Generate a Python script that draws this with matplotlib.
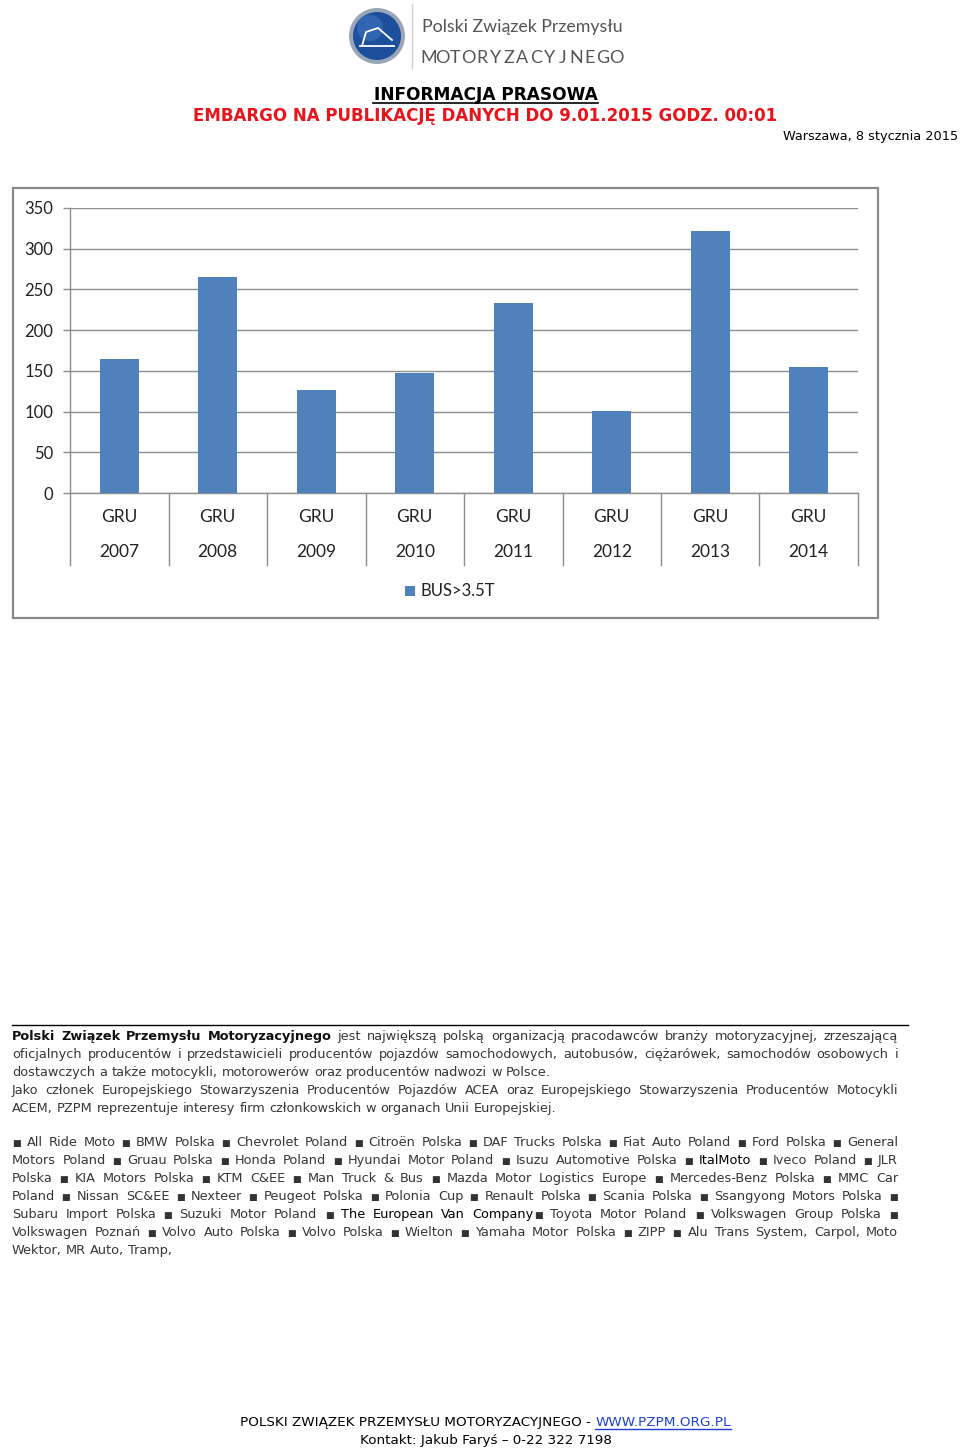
import matplotlib
matplotlib.use("Agg")
import matplotlib.pyplot as plt
import matplotlib.transforms as mtransforms
from matplotlib import font_manager
from matplotlib.patches import Rectangle, Circle

# ── Page / canvas ─────────────────────────────────────────────
W, H, DPI = 960, 1451, 100

# ── Chart data ────────────────────────────────────────────────
CAT_PREFIX  = "GRU"
YEARS       = ["2007", "2008", "2009", "2010", "2011", "2012", "2013", "2014"]
BUS_VALUES  = [165, 265, 127, 147, 233, 101, 322, 155]
SERIES_NAME = "BUS>3.5T"
Y_TICKS     = [0, 50, 100, 150, 200, 250, 300, 350]

# ── Page texts ────────────────────────────────────────────────
LOGO_LINE1 = "Polski Związek Przemysłu"
LOGO_LINE2 = "MOTORYZACYJNEGO"
TITLE      = "INFORMACJA PRASOWA"
EMBARGO    = "EMBARGO NA PUBLIKACJĘ DANYCH DO 9.01.2015 GODZ. 00:01"
DATELINE   = "Warszawa, 8 stycznia 2015"

# (segments, justified) ; style: n = gray, b = bold, k = black
ABOUT_LINES = [
    ([("Polski Związek Przemysłu Motoryzacyjnego", "b"),
      (" jest największą polską organizacją pracodawców branży motoryzacyjnej, zrzeszającą", "n")], True),
    ([("oficjalnych producentów i przedstawicieli producentów pojazdów samochodowych, autobusów, ciężarówek, samochodów osobowych i", "n")], True),
    ([("dostawczych a także motocykli, motorowerów oraz producentów nadwozi w Polsce.", "n")], False),
    ([("Jako członek Europejskiego Stowarzyszenia Producentów Pojazdów ACEA oraz Europejskiego Stowarzyszenia Producentów Motocykli", "n")], True),
    ([("ACEM, PZPM reprezentuje interesy firm członkowskich w organach Unii Europejskiej.", "n")], False),
]
MEMBER_LINES = [
    ([("■ All Ride Moto ■ BMW Polska ■ Chevrolet Poland ■ Citroën Polska ■ DAF Trucks Polska ■ Fiat Auto Poland ■ Ford Polska ■ General", "n")], True),
    ([("Motors Poland ■ Gruau Polska ■ Honda Poland ■ Hyundai Motor Poland ■ Isuzu Automotive Polska ■ ", "n"),
      ("ItalMoto", "k"), (" ■ Iveco Poland ■ JLR", "n")], True),
    ([("Polska ■ KIA Motors Polska ■ KTM C&EE ■ Man Truck & Bus ■ Mazda Motor Logistics Europe ■ Mercedes-Benz Polska ■ MMC Car", "n")], True),
    ([("Poland ■ Nissan SC&EE ■ Nexteer ■ Peugeot Polska ■ Polonia Cup ■ Renault Polska ■ Scania Polska ■ Ssangyong Motors Polska ■", "n")], True),
    ([("Subaru Import Polska ■ Suzuki Motor Poland ■ ", "n"), ("The European Van Company", "k"),
      ("■ Toyota Motor Poland ■ Volkswagen Group Polska ■", "n")], True),
    ([("Volkswagen Poznań ■ Volvo Auto Polska ■ Volvo Polska ■ Wielton ■ Yamaha Motor Polska ■ ZIPP ■ Alu Trans System, Carpol, Moto", "n")], True),
    ([("Wektor, MR Auto, Tramp,", "n")], False),
]
FOOTER_ORG  = "POLSKI ZWIĄZEK PRZEMYSŁU MOTORYZACYJNEGO - "
FOOTER_URL  = "WWW.PZPM.ORG.PL"
FOOTER_CONT = "Kontakt: Jakub Faryś – 0-22 322 7198"

# ── Styles ────────────────────────────────────────────────────
BAR_COLOR  = "#4f81bd"
GRID_COLOR = "#8e8e8e"
TEXT_GRAY  = "#363636"
RED        = "#e8141b"
LINK_BLUE  = "#1d3fd6"

installed = {f.name for f in font_manager.fontManager.ttflist}
NARROW = "Liberation Sans Narrow" if "Liberation Sans Narrow" in installed else "Lato"
BODY = "DejaVu Sans"

fig = plt.figure(figsize=(W / DPI, H / DPI), dpi=DPI)
renderer = fig.canvas.get_renderer()

# full page overlay in pixel coordinates (y downwards)
bg = fig.add_axes([0, 0, 1, 1])
bg.set_xlim(0, W)
bg.set_ylim(H, 0)
bg.axis("off")


def text_width(s, size, **kw):
    t = bg.text(0, 0, s, fontsize=size, **kw)
    w = t.get_window_extent(renderer).width
    t.remove()
    return w


def fit_size(s, width, **kw):
    return 10 * width / text_width(s, 10, **kw)


def seg_props(style, size):
    if style == "b":
        return dict(fontsize=size, fontweight="bold", color="#111111", family=BODY)
    if style == "k":
        return dict(fontsize=size, color="#000000", family=BODY)
    return dict(fontsize=size, color=TEXT_GRAY, family=BODY)


def draw_line(y, segments, justify, size, x0=12, x1=898):
    tokens = []
    pending_space = False
    for seg_text, style in segments:
        parts = seg_text.split(" ")
        for j, part in enumerate(parts):
            if j > 0:
                pending_space = True
            if part == "":
                continue
            props = seg_props(style, size)
            if part == "■":
                props["fontsize"] = size * 0.72
                props["color"] = "#333333"
            attach = bool(tokens) and not pending_space
            tokens.append((part, props, attach))
            pending_space = False
    widths = [text_width(t, **{k: v for k, v in p.items() if k != "fontsize"}, size=p["fontsize"])
              for t, p, _ in tokens]
    n_gaps = sum(1 for i, (_, _, a) in enumerate(tokens) if i > 0 and not a)
    if justify and n_gaps:
        gap = (x1 - x0 - sum(widths)) / n_gaps
    else:
        gap = text_width("a a", size, family=BODY) - text_width("aa", size, family=BODY)
    x = x0
    for i, ((t, p, attach), w) in enumerate(zip(tokens, widths)):
        if i > 0 and not attach:
            x += gap
        bg.text(x, y, t, ha="left", va="baseline", **p)
        x += w


# ── Logo ──────────────────────────────────────────────────────
bg.add_patch(Circle((377, 36), 28, facecolor="#9aa6b8", edgecolor="none"))
bg.add_patch(Circle((377, 36), 24, facecolor="#1c4f9c", edgecolor="none"))
bg.add_patch(Circle((370, 28), 13, facecolor="#3f74c2", edgecolor="none", alpha=0.6))
bg.plot([362, 366, 378, 392], [46, 32, 28, 40], color="white", lw=1.3)
bg.plot([360, 394], [46, 46], color="white", lw=1.3)
bg.plot([412, 412], [4, 68], color="#d0d0d0", lw=1)
bg.text(422, 32, LOGO_LINE1, ha="left", va="baseline", color="#555555",
        fontsize=fit_size(LOGO_LINE1, 200, family=NARROW), family=NARROW)
for i, ch in enumerate(LOGO_LINE2):
    bg.text(428.5 + i * 13.4, 63, ch, ha="center", va="baseline", color="#555555",
            fontsize=13, family=NARROW)

# ── Header ────────────────────────────────────────────────────
ts = fit_size(TITLE, 225, family=BODY, fontweight="bold")
bg.text(485.5, 100, TITLE, ha="center", va="baseline", fontsize=ts,
        fontweight="bold", family=BODY, color="black")
bg.plot([373, 598], [103, 103], color="black", lw=1.2)
es = fit_size(EMBARGO, 586, family=BODY, fontweight="bold")
bg.text(485, 121, EMBARGO, ha="center", va="baseline", fontsize=es,
        fontweight="bold", family=BODY, color=RED)
ds = fit_size(DATELINE, 175, family=BODY)
bg.text(958, 140, DATELINE, ha="right", va="baseline", fontsize=ds,
        family=BODY, color="black")

# ── Chart ─────────────────────────────────────────────────────
bg.add_patch(Rectangle((13, 188), 865, 430, facecolor="none",
                       edgecolor="#8a8a8a", lw=1.6))

ax = fig.add_axes([70 / W, 1 - 493 / H, (858 - 70) / W, (493 - 208) / H])
x = list(range(len(YEARS)))
ax.bar(x, BUS_VALUES, width=0.4, color=BAR_COLOR, zorder=3)
ax.set_xlim(-0.5, len(YEARS) - 0.5)
ax.set_ylim(0, 350)
ax.set_yticks(Y_TICKS)
ax.set_yticklabels([str(v) for v in Y_TICKS], fontsize=12, family="Lato", color="#222222")
ax.tick_params(axis="y", direction="out", length=5, width=1, color=GRID_COLOR, pad=7)
ax.set_xticks([])
ax.yaxis.grid(True, color=GRID_COLOR, lw=1, zorder=0)
for s in ("top", "right"):
    ax.spines[s].set_visible(False)
for s in ("left", "bottom"):
    ax.spines[s].set_color(GRID_COLOR)
    ax.spines[s].set_linewidth(1)

trans = mtransforms.blended_transform_factory(ax.transData, ax.transAxes)
sep_bottom = -(565 - 493) / (493 - 208)
for i in range(len(YEARS) + 1):
    ax.plot([i - 0.5, i - 0.5], [0, sep_bottom], transform=trans,
            color=GRID_COLOR, lw=1, clip_on=False)
for i, yr in enumerate(YEARS):
    ax.text(i, -(517 - 493) / 285, CAT_PREFIX, transform=trans, ha="center",
            va="center", fontsize=12.5, family=NARROW, color="#222222")
    ax.text(i, -(552 - 493) / 285, yr, transform=trans, ha="center",
            va="center", fontsize=12.5, family=NARROW, color="#222222")

bg.add_patch(Rectangle((405, 586), 10, 10, facecolor=BAR_COLOR, edgecolor="none"))
bg.text(420, 591, SERIES_NAME, ha="left", va="center", fontsize=12,
        family=NARROW, color="#222222")

# ── About section ─────────────────────────────────────────────
bg.plot([12, 908], [1025, 1025], color="black", lw=1)
body_size = fit_size(ABOUT_LINES[2][0][0][0], 541, family=BODY)
for k, (segs, just) in enumerate(ABOUT_LINES):
    draw_line(1040 + 18 * k, segs, just, body_size)
for k, (segs, just) in enumerate(MEMBER_LINES):
    draw_line(1146 + 18 * k, segs, just, body_size)

# ── Footer ────────────────────────────────────────────────────
fs = fit_size(FOOTER_ORG + FOOTER_URL, 487, family=BODY)
w_org = text_width(FOOTER_ORG, fs, family=BODY)
w_url = text_width(FOOTER_URL, fs, family=BODY)
x_start = 485.5 - (w_org + w_url) / 2
bg.text(x_start, 1426, FOOTER_ORG, ha="left", va="baseline", fontsize=fs,
        family=BODY, color="black")
bg.text(x_start + w_org, 1426, FOOTER_URL, ha="left", va="baseline", fontsize=fs,
        family=BODY, color=LINK_BLUE)
bg.plot([x_start + w_org, x_start + w_org + w_url], [1428.5, 1428.5],
        color=LINK_BLUE, lw=1)
bg.text(486, 1444, FOOTER_CONT, ha="center", va="baseline", fontsize=fs,
        family=BODY, color="black")

fig.savefig("out.png", dpi=DPI)
